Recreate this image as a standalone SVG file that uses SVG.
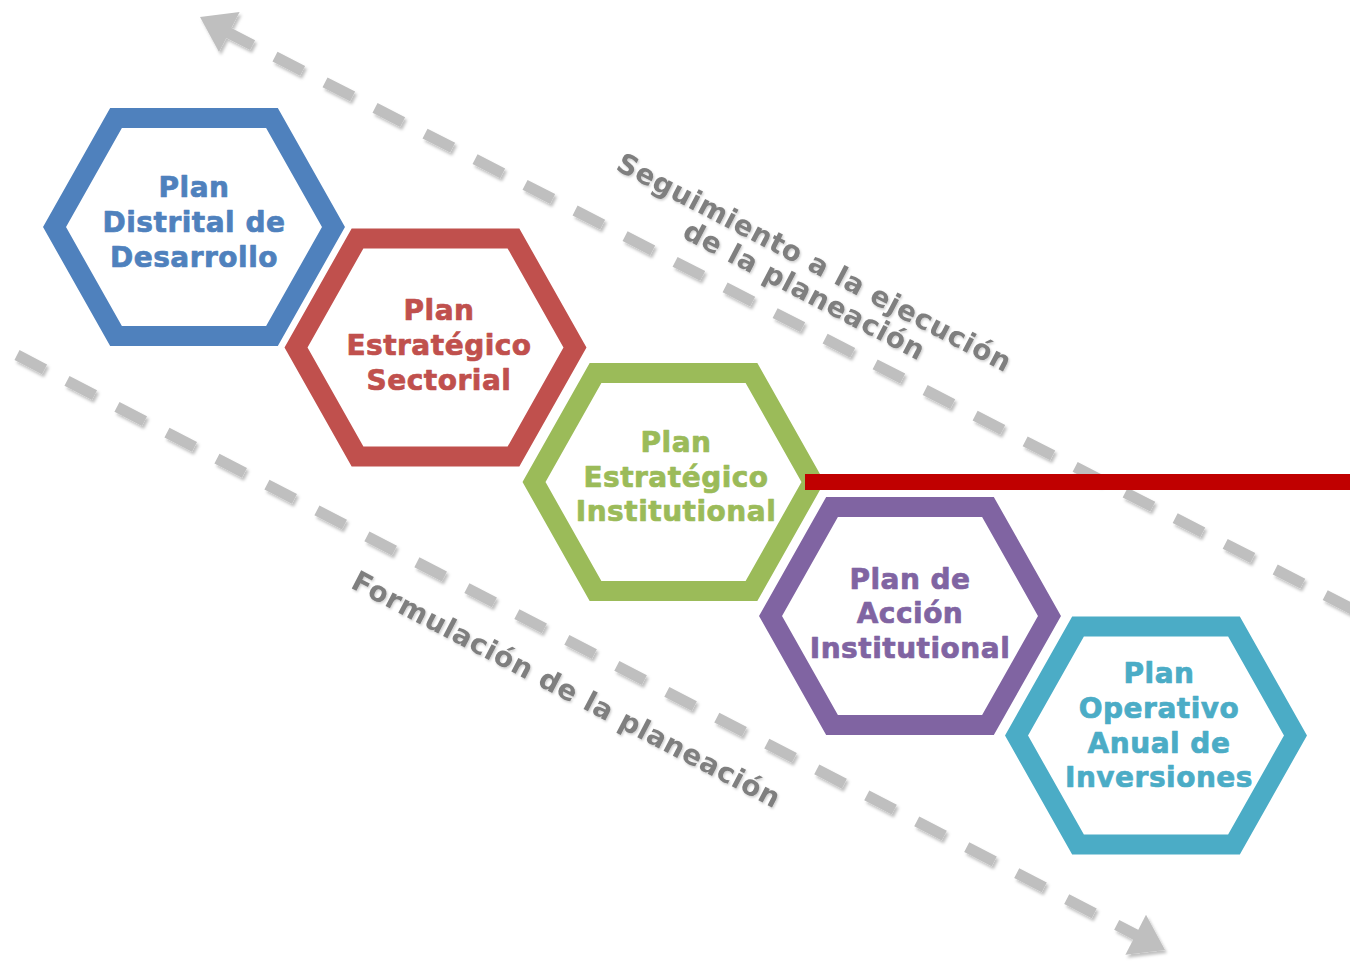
<svg xmlns="http://www.w3.org/2000/svg" width="1350" height="963" viewBox="0 0 1350 963">
<style>
  .hex { fill: #FFFFFF; stroke-width: 20; stroke-linejoin: miter; stroke-miterlimit: 10; }
  .ht { font-family: "DejaVu Sans", Verdana, sans-serif; font-weight: bold; font-size: 28px; letter-spacing: 0.5px; text-anchor: middle; stroke-width: 0.7px; stroke-linejoin: round; }
  .lbl { font-family: "DejaVu Sans", Verdana, sans-serif; font-weight: bold; font-size: 28px; letter-spacing: 0.6px; text-anchor: middle; fill: #7F7F7F; }
  .dash { fill: none; stroke: #BFBFBF; stroke-width: 11; stroke-linecap: butt; stroke-dasharray: 31 25.2; }
  .head { fill: #BFBFBF; }
</style>
<defs>
  <filter id="sh" x="-10%" y="-10%" width="120%" height="120%">
    <feDropShadow dx="2" dy="3" stdDeviation="1.5" flood-color="#000000" flood-opacity="0.25"/>
  </filter>
  <filter id="tsh" x="-10%" y="-20%" width="120%" height="140%">
    <feDropShadow dx="1" dy="1.5" stdDeviation="1" flood-color="#000000" flood-opacity="0.2"/>
  </filter>
  <polygon id="hexshape" points="-78,-109 78,-109 139.5,0 78,109 -78,109 -139.5,0"/>
</defs>
<rect width="1350" height="963" fill="#FFFFFF"/>

<g id="connectors" filter="url(#sh)">
  <path class="dash" d="M225,31 L1362,614"/>
  <polygon class="head" points="200,17 239.6,12.1 219,52.1"/>
  <path class="dash" d="M17,355 L1140,937" style="stroke-dasharray:31 25.3"/>
  <polygon class="head" points="1165,950 1125.4,954.8 1146,914.8"/>
</g>

<g id="label-seguimiento" filter="url(#tsh)">
  <text class="lbl" transform="translate(810,271) rotate(27.5)">Seguimiento a la ejecución</text>
  <text class="lbl" transform="translate(800,299) rotate(27.5)">de la planeación</text>
</g>
<g id="label-formulacion" filter="url(#tsh)">
  <text class="lbl" transform="translate(562,698) rotate(27.5)">Formulación de la planeación</text>
</g>

<g id="node-pdd">
  <use href="#hexshape" class="hex" stroke="#4F81BD" transform="translate(194,227)"/>
  <text class="ht" fill="#4F81BD" stroke="#4F81BD"><tspan x="194" y="197">Plan</tspan><tspan x="194" y="232">Distrital de</tspan><tspan x="194" y="267">Desarrollo</tspan></text>
</g>
<g id="node-pes">
  <use href="#hexshape" class="hex" stroke="#C0504D" transform="translate(435.5,347.5)"/>
  <text class="ht" fill="#C0504D" stroke="#C0504D"><tspan x="439" y="320">Plan</tspan><tspan x="439" y="355">Estratégico</tspan><tspan x="439" y="390">Sectorial</tspan></text>
</g>
<g id="node-pei">
  <use href="#hexshape" class="hex" stroke="#9BBB59" transform="translate(673.5,482)"/>
  <text class="ht" fill="#9BBB59" stroke="#9BBB59"><tspan x="676" y="452">Plan</tspan><tspan x="676" y="487">Estratégico</tspan><tspan x="676" y="521">Institutional</tspan></text>
</g>
<g id="node-pai">
  <use href="#hexshape" class="hex" stroke="#8064A2" transform="translate(910,616)"/>
  <text class="ht" fill="#8064A2" stroke="#8064A2"><tspan x="910" y="589">Plan de</tspan><tspan x="910" y="623">Acción</tspan><tspan x="910" y="658">Institutional</tspan></text>
</g>
<g id="node-poai">
  <use href="#hexshape" class="hex" stroke="#4BACC6" transform="translate(1156,735.5)"/>
  <text class="ht" fill="#4BACC6" stroke="#4BACC6"><tspan x="1159" y="683">Plan</tspan><tspan x="1159" y="718">Operativo</tspan><tspan x="1159" y="753">Anual de</tspan><tspan x="1159" y="787">Inversiones</tspan></text>
</g>

<g id="red-bar">
  <rect x="805" y="474" width="545" height="16" fill="#C00000"/>
</g>
</svg>
